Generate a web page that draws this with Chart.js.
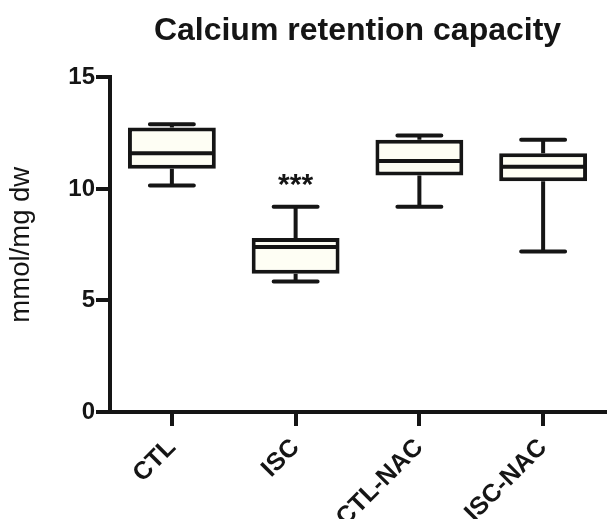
<!DOCTYPE html>
<html>
<head>
<meta charset="utf-8">
<script src="https://cdn.jsdelivr.net/npm/chart.js@4/dist/chart.umd.min.js"></script>
<style>
  html, body { margin: 0; padding: 0; background: #ffffff; }
  #wrap { width: 608px; height: 519px; }
</style>
</head>
<body>
<div id="wrap"><canvas id="chart" width="608" height="519"></canvas></div>
<script>
// Groups and their box-and-whisker summaries (mmol/mg dw)
const categories   = ['CTL', 'ISC', 'CTL-NAC', 'ISC-NAC'];
const whiskerMin   = [10.15, 5.85, 9.2, 7.2];
const quartile1    = [10.9, 6.2, 10.6, 10.35];
const medians      = [11.6, 7.4, 11.25, 11.0];
const quartile3    = [12.75, 7.8, 12.2, 11.6];
const whiskerMax   = [12.9, 9.2, 12.4, 12.2];
const significance = ['', '***', '', ''];
const yTicks       = [0, 5, 10, 15];

const INK = '#151515';
const FONT = "'Liberation Sans', Arial, Helvetica, sans-serif";

// Draws whiskers, medians and significance marks on top of the floating-bar boxes
const boxPlotExtras = {
  id: 'boxPlotExtras',
  afterDatasetsDraw(chart) {
    const ctx = chart.ctx;
    const x = chart.scales.x;
    const y = chart.scales.y;
    const bars = chart.getDatasetMeta(0).data;
    ctx.save();
    ctx.strokeStyle = INK;
    ctx.lineWidth = 4;
    categories.forEach((c, i) => {
      const cx = x.getPixelForValue(i);
      const half = bars[i].width / 2;
      const capHalf = half * 0.5;
      const yMin = y.getPixelForValue(whiskerMin[i]);
      const yQ1 = y.getPixelForValue(quartile1[i]);
      const yMed = y.getPixelForValue(medians[i]);
      const yQ3 = y.getPixelForValue(quartile3[i]);
      const yMax = y.getPixelForValue(whiskerMax[i]);

      // whisker stems
      ctx.lineCap = 'butt';
      ctx.beginPath();
      ctx.moveTo(cx, yQ1); ctx.lineTo(cx, yMin);
      ctx.moveTo(cx, yQ3); ctx.lineTo(cx, yMax);
      ctx.stroke();

      // whisker caps
      ctx.lineCap = 'round';
      ctx.beginPath();
      ctx.moveTo(cx - capHalf, yMin); ctx.lineTo(cx + capHalf, yMin);
      ctx.moveTo(cx - capHalf, yMax); ctx.lineTo(cx + capHalf, yMax);
      ctx.stroke();

      // median
      ctx.lineCap = 'butt';
      ctx.beginPath();
      ctx.moveTo(cx - half + 2, yMed); ctx.lineTo(cx + half - 2, yMed);
      ctx.stroke();

      // significance stars above the upper whisker
      if (significance[i]) {
        ctx.fillStyle = INK;
        ctx.font = 'bold 30px ' + FONT;
        ctx.textAlign = 'center';
        ctx.textBaseline = 'alphabetic';
        ctx.fillText(significance[i], cx, yMax - 13);
      }
    });
    ctx.restore();
  }
};

new Chart(document.getElementById('chart'), {
  type: 'bar',
  data: {
    labels: categories,
    datasets: [{
      data: categories.map((c, i) => [quartile1[i], quartile3[i]]),
      backgroundColor: '#fefef4',
      borderColor: INK,
      borderWidth: 4,
      borderSkipped: false,
      categoryPercentage: 1,
      barPercentage: 0.71
    }]
  },
  options: {
    responsive: false,
    animation: false,
    devicePixelRatio: 1,
    layout: { padding: { left: 0, right: 3, top: 0, bottom: 0 } },
    plugins: {
      legend: { display: false },
      tooltip: { enabled: false },
      title: {
        display: true,
        text: 'Calcium retention capacity',
        fullSize: false,
        color: INK,
        font: { family: FONT, size: 32, weight: 'bold' },
        padding: { top: 12, bottom: 27 }
      }
    },
    scales: {
      x: {
        offset: true,
        grid: {
          display: true,
          drawOnChartArea: false,
          drawTicks: true,
          tickLength: 14,
          tickWidth: 4,
          lineWidth: 4,
          tickColor: INK,
          color: INK,
          offset: false
        },
        border: { display: true, width: 4, color: INK },
        ticks: {
          color: INK,
          autoSkip: false,
          minRotation: 45,
          maxRotation: 45,
          padding: 7,
          font: { family: FONT, size: 25, weight: 'bold' }
        },
        afterFit(scale) { scale.height = 107; }
      },
      y: {
        min: 0,
        max: 15,
        afterBuildTicks(scale) { scale.ticks = yTicks.map(v => ({ value: v })); },
        grid: {
          display: true,
          drawOnChartArea: false,
          drawTicks: true,
          tickLength: 14,
          tickWidth: 4,
          lineWidth: 4,
          tickColor: INK,
          color: INK
        },
        border: { display: true, width: 4, color: INK },
        ticks: {
          color: INK,
          padding: 1,
          font: { family: FONT, size: 24, weight: 'bold' }
        },
        title: {
          display: true,
          text: 'mmol/mg dw',
          color: INK,
          font: { family: FONT, size: 27.5, weight: 'normal' },
          padding: { top: 5, bottom: 0 }
        },
        afterFit(scale) { scale.width = 110; }
      }
    }
  },
  plugins: [boxPlotExtras]
});
</script>
</body>
</html>
